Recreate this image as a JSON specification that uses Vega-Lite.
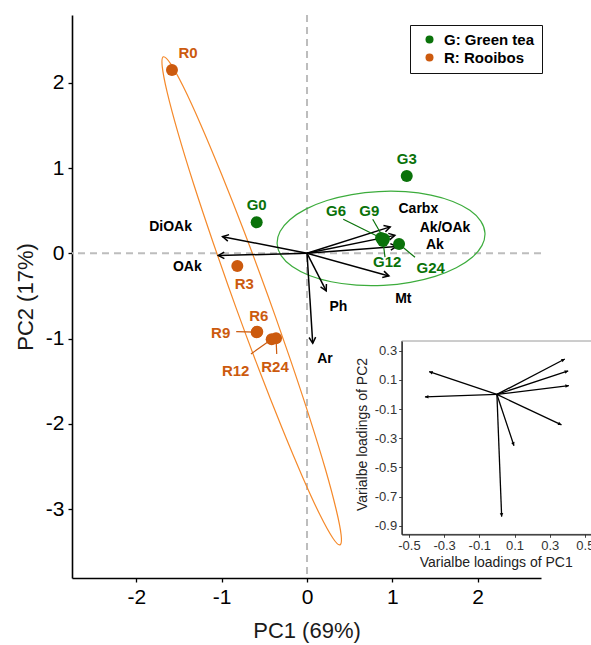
{
"$schema": "https://vega.github.io/schema/vega-lite/v6.json",
"width": 469, "height": 563,
"autosize": "none",
"padding": {"left": 72, "top": 15, "right": 50, "bottom": 67},
"background": "white",
"config": {"view": {"stroke": null}, "font": "Liberation Sans", "axis": {"grid": false}},
"datasets": {
"zero": [{"v": 0}],
"one": [{"k": 1}],
"ell": [
{"g":"R","i":0,"x":0.386,"y":-3.418},{"g":"R","i":1,"x":0.400,"y":-3.303},{"g":"R","i":2,"x":0.341,"y":-3.001},{"g":"R","i":3,"x":0.216,"y":-2.532},{"g":"R","i":4,"x":0.031,"y":-1.929},{"g":"R","i":5,"x":-0.200,"y":-1.232},{"g":"R","i":6,"x":-0.461,"y":-0.489},{"g":"R","i":7,"x":-0.735,"y":0.249},{"g":"R","i":8,"x":-1.004,"y":0.932},{"g":"R","i":9,"x":-1.248,"y":1.514},{"g":"R","i":10,"x":-1.451,"y":1.955},{"g":"R","i":11,"x":-1.600,"y":2.224},{"g":"R","i":12,"x":-1.684,"y":2.304},{"g":"R","i":13,"x":-1.697,"y":2.189},{"g":"R","i":14,"x":-1.639,"y":1.887},{"g":"R","i":15,"x":-1.514,"y":1.418},{"g":"R","i":16,"x":-1.330,"y":0.815},{"g":"R","i":17,"x":-1.098,"y":0.118},{"g":"R","i":18,"x":-0.837,"y":-0.625},{"g":"R","i":19,"x":-0.563,"y":-1.363},{"g":"R","i":20,"x":-0.294,"y":-2.046},{"g":"R","i":21,"x":-0.050,"y":-2.628},{"g":"R","i":22,"x":0.153,"y":-3.069},{"g":"R","i":23,"x":0.302,"y":-3.338},
{"g":"G","i":0,"x":2.086,"y":0.238},{"g":"G","i":1,"x":2.037,"y":0.378},{"g":"G","i":2,"x":1.909,"y":0.504},{"g":"G","i":3,"x":1.709,"y":0.608},{"g":"G","i":4,"x":1.452,"y":0.682},{"g":"G","i":5,"x":1.156,"y":0.722},{"g":"G","i":6,"x":0.839,"y":0.724},{"g":"G","i":7,"x":0.525,"y":0.689},{"g":"G","i":8,"x":0.234,"y":0.619},{"g":"G","i":9,"x":-0.014,"y":0.518},{"g":"G","i":10,"x":-0.201,"y":0.394},{"g":"G","i":11,"x":-0.316,"y":0.255},{"g":"G","i":12,"x":-0.350,"y":0.110},{"g":"G","i":13,"x":-0.301,"y":-0.030},{"g":"G","i":14,"x":-0.173,"y":-0.156},{"g":"G","i":15,"x":0.027,"y":-0.260},{"g":"G","i":16,"x":0.284,"y":-0.334},{"g":"G","i":17,"x":0.581,"y":-0.374},{"g":"G","i":18,"x":0.897,"y":-0.376},{"g":"G","i":19,"x":1.211,"y":-0.341},{"g":"G","i":20,"x":1.502,"y":-0.271},{"g":"G","i":21,"x":1.750,"y":-0.170},{"g":"G","i":22,"x":1.937,"y":-0.046},{"g":"G","i":23,"x":2.052,"y":0.093}
],
"pts": [
{"id":"G0","group":"G","x":-0.59,"y":0.363},
{"id":"G3","group":"G","x":1.169,"y":0.906},
{"id":"G6","group":"G","x":0.868,"y":0.18},
{"id":"G9","group":"G","x":0.903,"y":0.168},
{"id":"G12","group":"G","x":0.891,"y":0.144},
{"id":"G24","group":"G","x":1.079,"y":0.109},
{"id":"R0","group":"R","x":-1.583,"y":2.149},
{"id":"R3","group":"R","x":-0.817,"y":-0.149},
{"id":"R6","group":"R","x":-0.583,"y":-0.919},
{"id":"R9","group":"R","x":-0.59,"y":-0.925},
{"id":"R12","group":"R","x":-0.414,"y":-1.008},
{"id":"R24","group":"R","x":-0.363,"y":-0.997}
],
"labs": [
{"id":"G0","group":"G","lx":-0.59,"ly":0.566},
{"id":"G3","group":"G","lx":1.169,"ly":1.1},
{"id":"G6","group":"G","lx":0.34,"ly":0.5,"sx":0.425,"sy":0.4},
{"id":"G9","group":"G","lx":0.73,"ly":0.5,"sx":0.77,"sy":0.4},
{"id":"G12","group":"G","lx":0.941,"ly":-0.098,"sx":0.914,"sy":-0.045},
{"id":"G24","group":"G","lx":1.45,"ly":-0.176,"sx":1.266,"sy":-0.047},
{"id":"R0","group":"R","lx":-1.395,"ly":2.345},
{"id":"R3","group":"R","lx":-0.735,"ly":-0.363},
{"id":"R6","group":"R","lx":-0.566,"ly":-0.731},
{"id":"R9","group":"R","lx":-1.012,"ly":-0.938,"sx":-0.83,"sy":-0.919},
{"id":"R12","group":"R","lx":-0.836,"ly":-1.376,"sx":-0.657,"sy":-1.18},
{"id":"R24","group":"R","lx":-0.375,"ly":-1.329,"sx":-0.355,"sy":-1.18}
],
"load": [
{"v":"Carbx","ox":0,"oy":0,"bx":0.975,"by":0.31,"tx":1.305,"ty":0.516,"ix":0.386,"iy":0.243},
{"v":"Ak/OAk","ox":0,"oy":0,"bx":1.03,"by":0.21,"tx":1.618,"ty":0.293,"ix":0.405,"iy":0.161},
{"v":"Ak","ox":0,"oy":0,"bx":1.05,"by":0.08,"tx":1.5,"ty":0.097,"ix":0.409,"iy":0.06},
{"v":"Mt","ox":0,"oy":0,"bx":0.96,"by":-0.265,"tx":1.129,"ty":-0.54,"ix":0.367,"iy":-0.209},
{"v":"Ph","ox":0,"oy":0,"bx":0.225,"by":-0.44,"tx":0.367,"ty":-0.626,"ix":0.097,"iy":-0.351},
{"v":"Ar","ox":0,"oy":0,"bx":0.067,"by":-1.055,"tx":0.211,"ty":-1.243,"ix":0.027,"iy":-0.837},
{"v":"DiOAk","ox":0,"oy":0,"bx":-0.99,"by":0.195,"tx":-1.6,"ty":0.312,"ix":-0.385,"iy":0.156},
{"v":"OAk","ox":0,"oy":0,"bx":-1.04,"by":-0.026,"tx":-1.403,"ty":-0.164,"ix":-0.409,"iy":-0.017}
]
},
"layer": [
{"layer": [
{"data": {"name": "zero"}, "mark": {"type": "rule", "color": "#bdbdbd", "strokeWidth": 2, "strokeDash": [7, 5]},
 "encoding": {"x": {"field": "v", "type": "quantitative", "scale": {"domain": [-2.755, 2.743], "nice": false, "zero": false}}}},
{"data": {"name": "zero"}, "mark": {"type": "rule", "color": "#bdbdbd", "strokeWidth": 2, "strokeDash": [7, 5]},
 "encoding": {"y": {"field": "v", "type": "quantitative", "scale": {"domain": [-3.807, 2.794], "nice": false, "zero": false}}}},
{"data": {"name": "ell"}, "mark": {"type": "line", "interpolate": "cardinal-closed", "strokeWidth": 1.2},
 "encoding": {
  "x": {"field": "x", "type": "quantitative", "scale": {"domain": [-2.755, 2.743], "nice": false, "zero": false},
   "axis": {"title": "PC1 (69%)", "values": [-2, -1, 0, 1, 2], "labelExpr": "datum.value < 0 ? '-' + format(-datum.value, 'd') : format(datum.value, 'd')", "domainColor": "black", "domainWidth": 1.6, "tickColor": "black", "tickSize": 4, "tickWidth": 1.3, "labelFontSize": 21, "labelColor": "black", "labelPadding": 4, "labelFlush": false, "labelOverlap": false, "titleFontSize": 22, "titleFontWeight": "normal", "titleColor": "#1a1a1a", "titlePadding": 13}},
  "y": {"field": "y", "type": "quantitative", "scale": {"domain": [-3.807, 2.794], "nice": false, "zero": false},
   "axis": {"title": "PC2 (17%)", "values": [-3, -2, -1, 0, 1, 2], "labelExpr": "datum.value < 0 ? '-' + format(-datum.value, 'd') : format(datum.value, 'd')", "domainColor": "black", "domainWidth": 1.6, "tickColor": "black", "tickSize": 4, "tickWidth": 1.3, "labelFontSize": 21, "labelColor": "black", "labelPadding": 4, "labelFlush": false, "labelOverlap": false, "titleFontSize": 22, "titleFontWeight": "normal", "titleColor": "#1a1a1a", "titlePadding": 8}},
  "order": {"field": "i", "type": "quantitative"},
  "detail": {"field": "g", "type": "nominal"},
  "color": {"condition": {"test": "datum.g === 'G'", "value": "#3cac3c"}, "value": "#f5892a"}
 }},
{"data": {"name": "load"}, "mark": {"type": "rule", "color": "black", "strokeWidth": 1.5},
 "encoding": {
  "x": {"field": "ox", "type": "quantitative", "scale": {"domain": [-2.755, 2.743], "nice": false, "zero": false}},
  "y": {"field": "oy", "type": "quantitative", "scale": {"domain": [-3.807, 2.794], "nice": false, "zero": false}},
  "x2": {"field": "bx"}, "y2": {"field": "by"}
 }},
{"data": {"name": "load"},
 "transform": [{"calculate": "atan2(datum.bx, datum.by) * 180 / PI", "as": "ang"}],
 "mark": {"type": "point", "shape": "M-0.55,1L0,0L0.55,1", "filled": false, "color": "black", "strokeWidth": 1.5, "size": 144, "opacity": 1},
 "encoding": {
  "x": {"field": "bx", "type": "quantitative", "scale": {"domain": [-2.755, 2.743], "nice": false, "zero": false}},
  "y": {"field": "by", "type": "quantitative", "scale": {"domain": [-3.807, 2.794], "nice": false, "zero": false}},
  "angle": {"field": "ang", "type": "quantitative", "scale": {"domain": [-180, 180], "range": [-180, 180], "zero": false, "nice": false}}
 }},
{"data": {"name": "labs"},
 "transform": [{"filter": "isValid(datum.sx)"}, {"lookup": "id", "from": {"data": {"name": "pts"}, "key": "id", "fields": ["x", "y"]}}],
 "mark": {"type": "rule", "strokeWidth": 1.2},
 "encoding": {
  "x": {"field": "sx", "type": "quantitative", "scale": {"domain": [-2.755, 2.743], "nice": false, "zero": false}},
  "y": {"field": "sy", "type": "quantitative", "scale": {"domain": [-3.807, 2.794], "nice": false, "zero": false}},
  "x2": {"field": "x"}, "y2": {"field": "y"},
  "color": {"condition": {"test": "datum.group === 'G'", "value": "#0a720a"}, "value": "#cc5a0e"}
 }},
{"data": {"name": "pts"},
 "mark": {"type": "point", "filled": true, "size": 144, "opacity": 1},
 "encoding": {
  "x": {"field": "x", "type": "quantitative", "scale": {"domain": [-2.755, 2.743], "nice": false, "zero": false}},
  "y": {"field": "y", "type": "quantitative", "scale": {"domain": [-3.807, 2.794], "nice": false, "zero": false}},
  "color": {"field": "group", "type": "nominal", "scale": {"domain": ["G", "R"], "range": ["#0a720a", "#cc5a0e"]},
   "legend": {"orient": "none", "legendX": 338, "legendY": 10, "title": null, "strokeColor": "#111", "fillColor": "white", "padding": 7,
    "symbolType": "circle", "symbolSize": 64, "symbolOffset": 5, "symbolStrokeWidth": 0, "labelFontSize": 15, "labelFontWeight": "bold", "labelOffset": 7, "rowPadding": 2,
    "labelExpr": "datum.value === 'G' ? 'G: Green tea' : 'R: Rooibos'",
    "encode": {"labels": {"update": {"fill": {"signal": "datum.value === 'G' ? '#0a720a' : '#cc5a0e'"}}}}}}
 }},
{"data": {"name": "labs"},
 "mark": {"type": "text", "fontWeight": "bold", "fontSize": 15, "align": "center", "baseline": "middle"},
 "encoding": {
  "x": {"field": "lx", "type": "quantitative", "scale": {"domain": [-2.755, 2.743], "nice": false, "zero": false}},
  "y": {"field": "ly", "type": "quantitative", "scale": {"domain": [-3.807, 2.794], "nice": false, "zero": false}},
  "text": {"field": "id"},
  "color": {"condition": {"test": "datum.group === 'G'", "value": "#0a720a"}, "value": "#cc5a0e"}
 }},
{"data": {"name": "load"},
 "mark": {"type": "text", "fontWeight": "bold", "fontSize": 14, "align": "center", "baseline": "middle", "color": "black"},
 "encoding": {
  "x": {"field": "tx", "type": "quantitative", "scale": {"domain": [-2.755, 2.743], "nice": false, "zero": false}},
  "y": {"field": "ty", "type": "quantitative", "scale": {"domain": [-3.807, 2.794], "nice": false, "zero": false}},
  "text": {"field": "v"}
 }}
]},
{"layer": [
{"data": {"name": "load"}, "mark": {"type": "rule", "color": "black", "strokeWidth": 1.3},
 "encoding": {
  "x": {"field": "ox", "type": "quantitative", "scale": {"domain": [-0.541, 0.6], "range": [329.7, 530.5], "nice": false, "zero": false},
   "axis": {"orient": "bottom", "offset": -43.7, "zindex": 1, "values": [-0.5, -0.3, -0.1, 0.1, 0.3, 0.5], "labelExpr": "datum.value < 0 ? '-' + format(-datum.value, '.1f') : format(datum.value, '.1f')", "domainColor": "#222", "domainWidth": 1.3, "tickColor": "#444", "tickSize": 3, "labelFontSize": 13, "labelColor": "#333", "labelPadding": 2, "labelFlush": false, "labelOverlap": false, "title": "Varialbe loadings of PC1", "titleFontSize": 14, "titleFontWeight": "normal", "titleColor": "#222", "titleX": 423.7, "titleY": 28, "titleBaseline": "middle", "titleAlign": "center"}},
  "y": {"field": "oy", "type": "quantitative", "scale": {"domain": [-0.958, 0.366], "range": [519.3, 326], "nice": false, "zero": false},
   "axis": {"orient": "left", "offset": -329.7, "zindex": 1, "values": [0.3, 0.1, -0.1, -0.3, -0.5, -0.7, -0.9], "labelExpr": "datum.value < 0 ? '-' + format(-datum.value, '.1f') : format(datum.value, '.1f')", "domainColor": "#222", "domainWidth": 1.3, "tickColor": "#444", "tickSize": 3, "labelFontSize": 13, "labelColor": "#333", "labelPadding": 2, "labelFlush": false, "labelOverlap": false, "title": "Varialbe loadings of PC2", "titleFontSize": 14, "titleFontWeight": "normal", "titleColor": "#222", "titleX": -39, "titleY": 419, "titleAngle": -90, "titleBaseline": "middle", "titleAlign": "center"}},
  "x2": {"field": "ix"}, "y2": {"field": "iy"}
 }},
{"data": {"name": "one"}, "mark": {"type": "rect", "fill": "transparent", "stroke": "#9a9a9a", "strokeWidth": 1},
 "encoding": {
  "x": {"datum": -0.541, "type": "quantitative", "scale": {"domain": [-0.541, 0.6], "range": [329.7, 530.5], "nice": false, "zero": false}},
  "x2": {"datum": 0.6},
  "y": {"datum": -0.958, "type": "quantitative", "scale": {"domain": [-0.958, 0.366], "range": [519.3, 326], "nice": false, "zero": false}},
  "y2": {"datum": 0.366}
 }},
{"data": {"name": "load"},
 "transform": [{"calculate": "atan2(176 * datum.ix, 146 * datum.iy) * 180 / PI", "as": "ang"}],
 "mark": {"type": "point", "shape": "M0,0L-0.5,1L0.5,1Z", "filled": true, "color": "black", "size": 49, "opacity": 1},
 "encoding": {
  "x": {"field": "ix", "type": "quantitative", "scale": {"domain": [-0.541, 0.6], "range": [329.7, 530.5], "nice": false, "zero": false}},
  "y": {"field": "iy", "type": "quantitative", "scale": {"domain": [-0.958, 0.366], "range": [519.3, 326], "nice": false, "zero": false}},
  "angle": {"field": "ang", "type": "quantitative", "scale": {"domain": [-180, 180], "range": [-180, 180], "zero": false, "nice": false}}
 }}
]}
],
"resolve": {"scale": {"x": "independent", "y": "independent"}, "axis": {"x": "independent", "y": "independent"}}
}
